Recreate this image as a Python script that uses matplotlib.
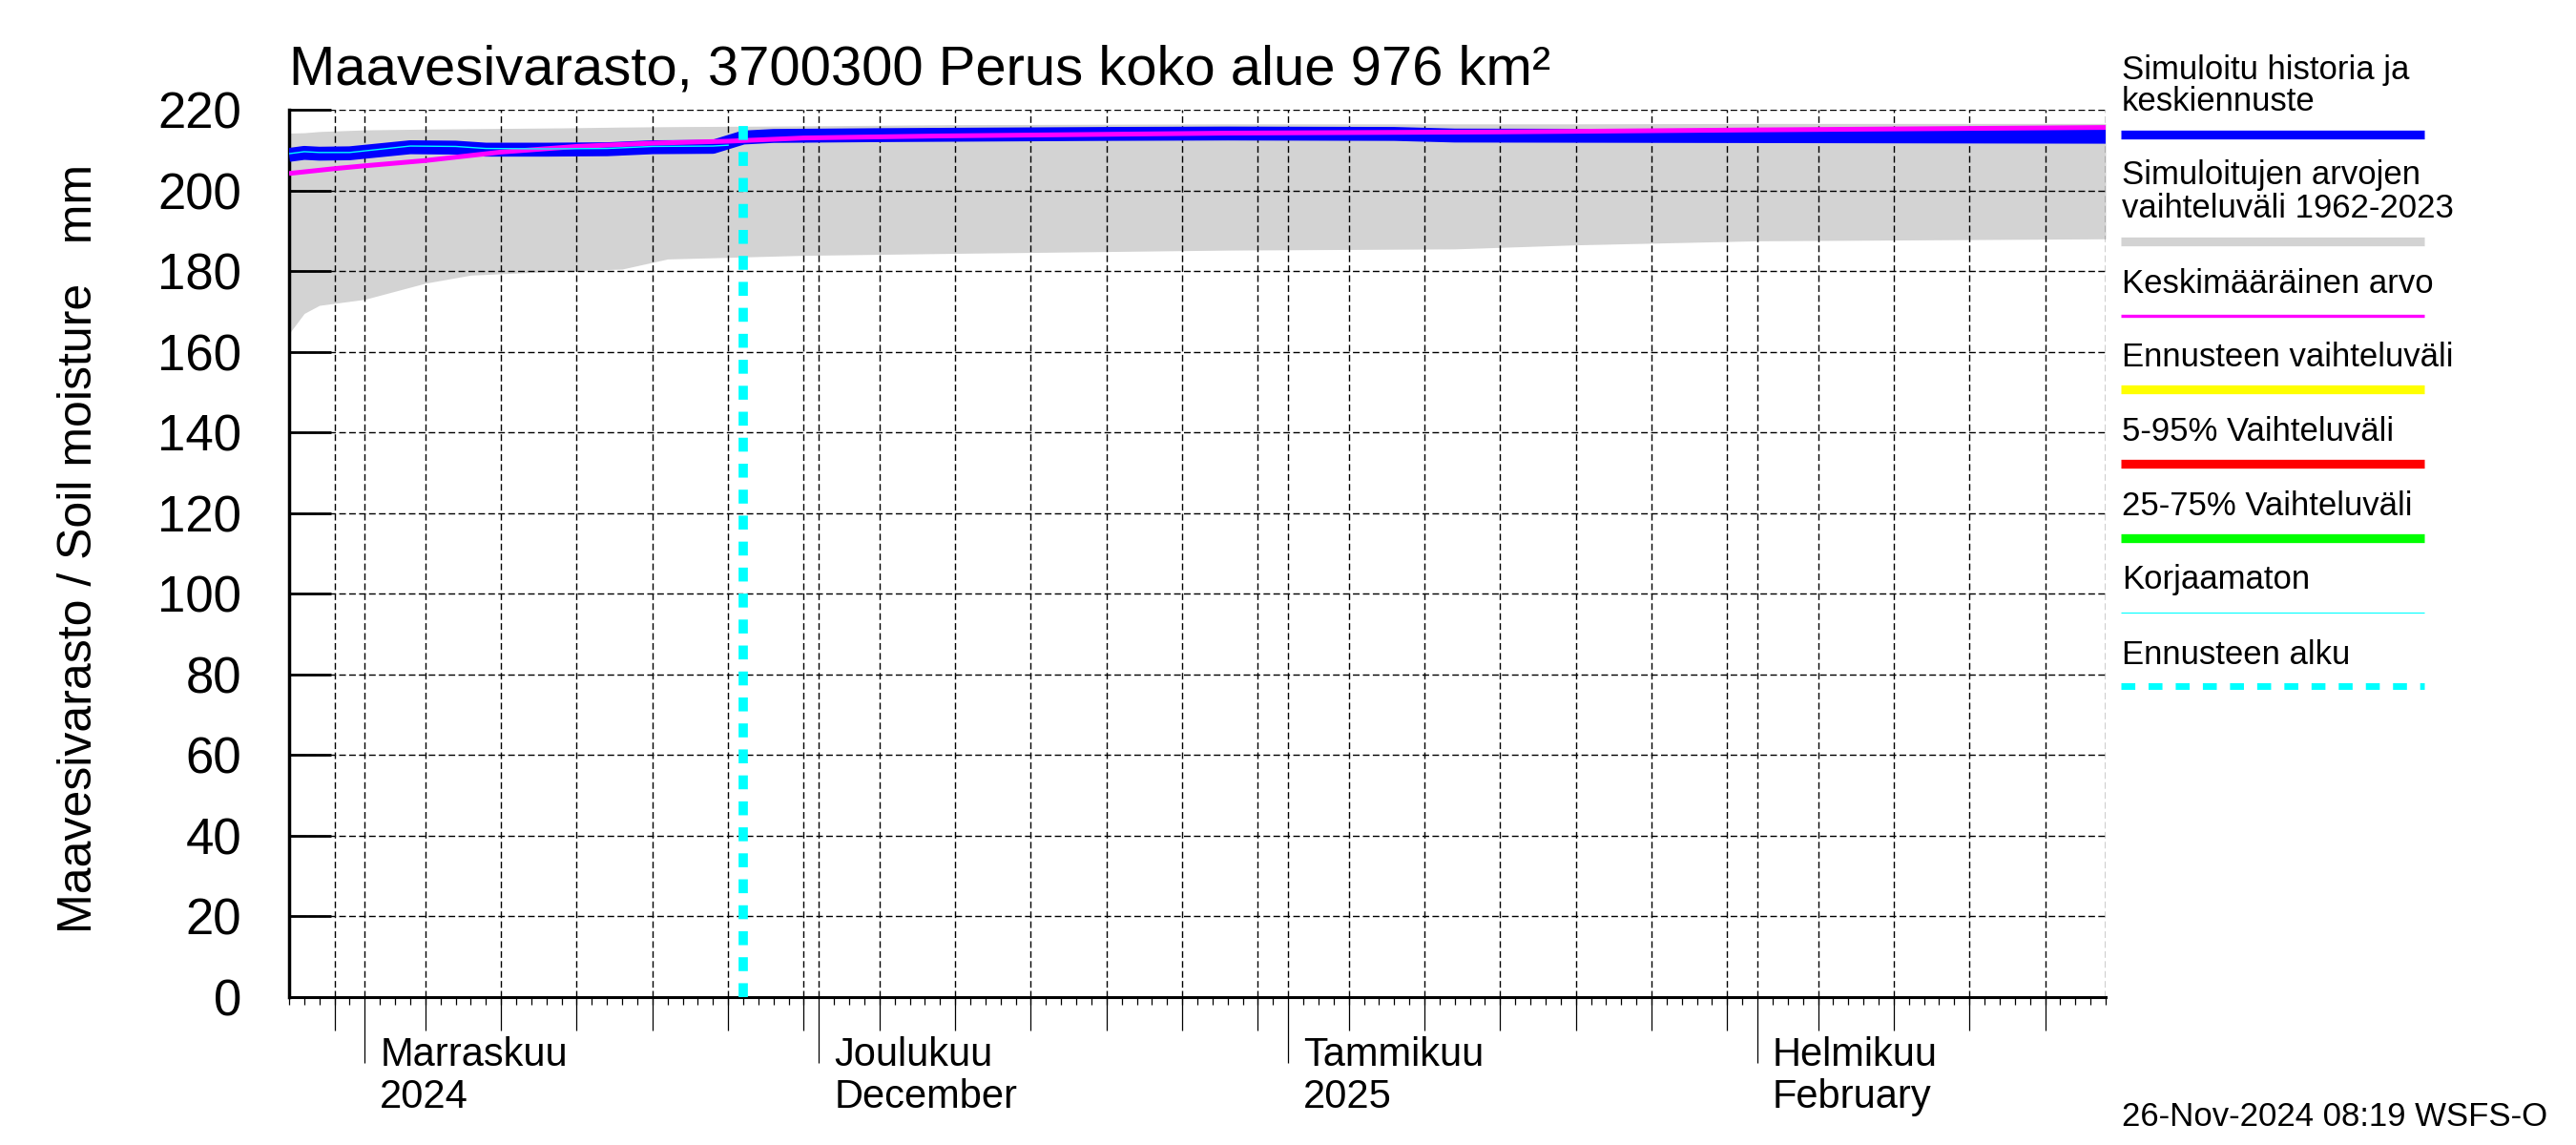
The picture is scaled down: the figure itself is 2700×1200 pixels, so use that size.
import numpy as np
import matplotlib
matplotlib.use("Agg")
import matplotlib.pyplot as plt
import matplotlib.dates as mdates
import matplotlib.transforms as mtrans
from matplotlib import font_manager
from matplotlib.lines import Line2D
from matplotlib.ticker import FixedLocator

plt.rcParams['font.family'] = ['Liberation Sans', 'DejaVu Sans']

# simulated range 1962-2023 (gray band)
range_dates = ["2024-10-27", "2024-10-28", "2024-10-29", "2024-11-01", "2024-11-03",
               "2024-11-05", "2024-11-08", "2024-11-14", "2024-11-18", "2024-11-21",
               "2024-11-30", "2024-12-10", "2024-12-28", "2025-01-12", "2025-01-20",
               "2025-02-01", "2025-02-24"]
range_low = [164.5, 169.5, 171.5, 173.0, 175.0, 177.0, 179.0, 180.0, 180.5, 183.0,
             183.9, 184.4, 185.2, 185.5, 186.5, 187.5, 188.0]
range_high = [214.2, 214.3, 214.6, 215.0, 215.1, 215.2, 215.3, 215.5, 215.7, 215.8,
              216.0, 216.3, 216.5, 216.5, 216.5, 216.6, 216.6]

# simulated history + median forecast (blue)
sim_dates = ["2024-10-27", "2024-10-28", "2024-10-29", "2024-10-31", "2024-11-04",
             "2024-11-07", "2024-11-09", "2024-11-13", "2024-11-17", "2024-11-20",
             "2024-11-24", "2024-11-26", "2024-11-28", "2024-12-05", "2024-12-20",
             "2024-12-28", "2025-01-08", "2025-01-12", "2025-02-24"]
sim_vals = [208.8, 209.3, 209.1, 209.2, 210.7, 210.6, 210.1, 210.1, 210.2, 210.7,
            210.8, 213.1, 213.5, 213.7, 214.0, 214.1, 214.0, 213.6, 213.3]

# uncorrected (thin cyan)
raw_dates = ["2024-10-27", "2024-10-28", "2024-10-29", "2024-10-31", "2024-11-04",
             "2024-11-07", "2024-11-09", "2024-11-13", "2024-11-17", "2024-11-20",
             "2024-11-24", "2024-11-25"]
raw_vals = [209.1, 209.6, 209.4, 209.4, 211.0, 210.9, 210.4, 210.3, 210.4, 210.9,
            211.0, 211.2]

# mean value (magenta)
mean_dates = ["2024-10-27", "2024-10-30", "2024-11-01", "2024-11-05", "2024-11-10",
              "2024-11-15", "2024-11-20", "2024-11-25", "2024-11-30", "2024-12-09",
              "2024-12-28", "2025-01-15", "2025-02-01", "2025-02-24"]
mean_vals = [204.2, 205.4, 206.1, 207.4, 209.5, 210.9, 211.7, 212.2, 213.0, 213.5,
             214.2, 214.5, 215.0, 215.6]

forecast_start = "2024-11-26"
x_start, x_end = "2024-10-27", "2025-02-24"

month_starts = ["2024-11-01", "2024-12-01", "2025-01-01", "2025-02-01"]
month_line1 = ["Marraskuu", "Joulukuu", "Tammikuu", "Helmikuu"]
month_line2 = ["2024", "December", "2025", "February"]

y_ticks = list(range(0, 221, 20))

title = "Maavesivarasto, 3700300 Perus koko alue 976 km²"
ylabel = "Maavesivarasto / Soil moisture   mm"
stamp = "26-Nov-2024 08:19 WSFS-O"

legend_text = [["Simuloitu historia ja", "keskiennuste"],
               ["Simuloitujen arvojen", "vaihteluväli 1962-2023"],
               ["Keskimääräinen arvo"],
               ["Ennusteen vaihteluväli"],
               ["5-95% Vaihteluväli"],
               ["25-75% Vaihteluväli"],
               ["Korjaamaton"],
               ["Ennusteen alku"]]
legend_colors = ["#0000ff", "#d3d3d3", "#ff00ff", "#ffff00", "#ff0000", "#00ff00",
                 "#00ffff", "#00ffff"]


def dnum(lst):
    return mdates.date2num(np.array(lst, dtype="datetime64[D]"))


W, H = 2700, 1200
fig = plt.figure(figsize=(W / 100, H / 100), dpi=100)
ax = fig.add_axes([303 / W, 1 - 1045 / H, (2207 - 303) / W, 930 / H])

x0, x1 = dnum([x_start, x_end])
ax.set_xlim(x0, x1)
ax.set_ylim(0, 220)

# gray band, lines
ax.fill_between(dnum(range_dates), range_low, range_high, color="#d3d3d3", lw=0, zorder=1)
ax.plot(dnum(sim_dates), sim_vals, color="#0000ff", lw=10.5, zorder=3, solid_capstyle="butt")
ax.plot(dnum(mean_dates), mean_vals, color="#ff00ff", lw=3.6, zorder=4, solid_capstyle="butt")
ax.plot(dnum(raw_dates), raw_vals, color="#00ffff", lw=1.0, zorder=5)
ax.axvline(dnum([forecast_start])[0], ymax=217 / 220, color="#00ffff", lw=7,
           ls=(0, (1.5, 1.3)), zorder=6)

# calendar for ticks and grid
days = np.arange(np.datetime64(x_start), np.datetime64(x_end) + 1)
day_of_month = np.array([int(str(d)[8:10]) for d in days])
day_nums = dnum(days)
month_nums = dnum(month_starts)
five_nums = day_nums[np.isin(day_of_month, [5, 10, 15, 20, 25, 30])]
grid_nums = np.concatenate([five_nums, month_nums, [x1]])

gstyle = dict(color="black", lw=1.0, ls=(0, (5, 2.5)))
for g in grid_nums:
    ax.axvline(g, zorder=1.5, **gstyle)
ax.set_yticks(y_ticks)
ax.yaxis.grid(True, **gstyle)

ax.xaxis.set_major_locator(FixedLocator(month_nums))
ax.xaxis.set_minor_locator(FixedLocator(day_nums))
ax.tick_params(axis="x", which="major", direction="out", length=50, width=0.9,
               labelbottom=False)
ax.tick_params(axis="x", which="minor", direction="out", length=6, width=0.9)
sec = ax.secondary_xaxis("bottom")
sec.set_xticks(five_nums)
sec.tick_params(axis="x", direction="out", length=25, width=0.9, labelbottom=False)
sec.spines["bottom"].set_visible(False)

ax.tick_params(axis="y", direction="in", length=32, width=2, pad=36, labelsize=38)
for s in ["top", "right"]:
    ax.spines[s].set_visible(False)
ax.spines["left"].set_linewidth(2.5)
ax.spines["bottom"].set_linewidth(2.2)

# month labels
narrow = any(f.name == "Liberation Sans Narrow" for f in font_manager.fontManager.ttflist)
mfam = ["Liberation Sans Narrow", "Liberation Sans"] if narrow else ["Liberation Sans"]
msize = 35 if narrow else 30
trans = mtrans.blended_transform_factory(ax.transData, ax.transAxes)
for m, l1, l2 in zip(month_nums, month_line1, month_line2):
    ax.text(m + 1, -0.0656, l1, transform=trans, ha="left", va="center",
            fontsize=msize, family=mfam)
    ax.text(m + 1, -0.1129, l2, transform=trans, ha="left", va="center",
            fontsize=msize, family=mfam)

# texts
fig.text(303 / W, 1 - 89 / H, title, fontsize=41.8, va="baseline", ha="left")
fig.text(83 / W, 0.521, ylabel, rotation=90, fontsize=36, ha="center", va="center")
fig.text(2224 / W, 1 - 1171 / H, stamp, fontsize=25, ha="left", va="center")

# legend
text_y = [[73, 107], [184, 218], [297], [375], [453], [531], [608], [686]]
bar_y = [141, 253, 331, 408, 486, 564, 642, 719]
bar_w = [6.7, 6.7, 2.4, 6.7, 6.7, 6.7, 0.8, 5]
for i, (lines, col) in enumerate(zip(legend_text, legend_colors)):
    for t, ty in zip(lines, text_y[i]):
        fig.text(2224 / W, 1 - ty / H, t, fontsize=25, ha="left", va="center")
    ls = (0, (2.1, 2.0)) if i == 7 else "-"
    fig.add_artist(Line2D([2223 / W, 2541 / W], [1 - bar_y[i] / H] * 2,
                          transform=fig.transFigure, color=col, lw=bar_w[i],
                          ls=ls, solid_capstyle="butt", dash_capstyle="butt"))

fig.savefig("out.png", dpi=100)
